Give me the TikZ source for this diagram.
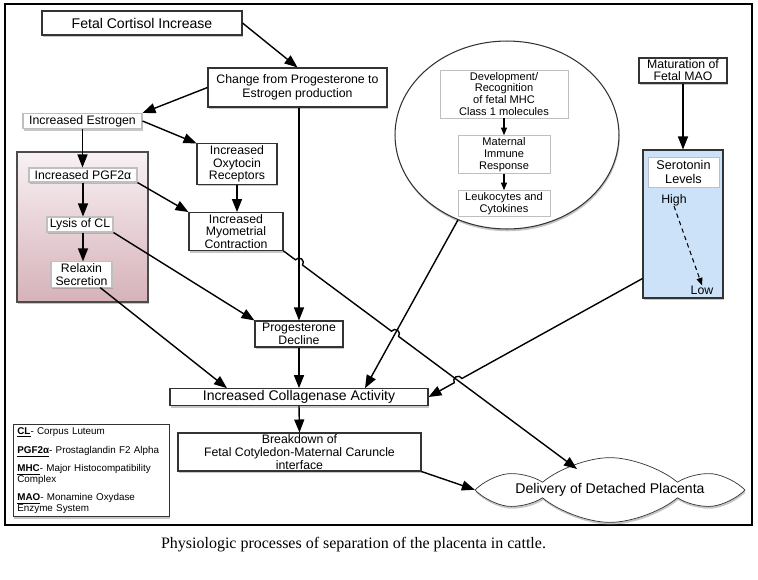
\documentclass[tikz,border=0pt]{standalone}
\usepackage{fontspec}
\setmainfont{Liberation Sans}
\newfontfamily\captionfont{Liberation Serif}
\usetikzlibrary{arrows.meta,calc,positioning,shapes.geometric,shapes.symbols,shadows,intersections}

\definecolor{pinktop}{HTML}{F8F1F3}
\definecolor{pinkbot}{HTML}{D6B2BA}
\definecolor{seroblue}{HTML}{CBE2F9}

\begin{document}
\begin{tikzpicture}[
  x=0.02cm, y=-0.02cm,
  every node/.style={font=\fontsize{7}{7.2}\selectfont},
  dshadow/.style={drop shadow={shadow xshift=0.4pt,shadow yshift=-1.3pt,opacity=0.45}},
  box/.style={draw=black!80,line width=0.6pt,fill=white,align=center,
              inner sep=1pt,dshadow},
  lbox/.style={draw=black!25,line width=0.5pt,fill=white,align=center,
               inner sep=1pt},
  tinytext/.style={font=\fontsize{6.3}{6.8}\selectfont},
  conn/.style={-{Triangle[length=2.6mm,width=2mm]},line width=0.8pt},
  sconn/.style={-{Triangle[length=1.5mm,width=1.2mm]},line width=0.6pt}
]
\useasboundingbox (0,0) rectangle (758,579);
\draw[line width=0.6pt] (5,4) rectangle (752,525);

% left column
\node[box,minimum width=4cm,minimum height=0.48cm,
      font=\fontsize{8}{9}\selectfont] (cortisol) at (142,23)
  {Fetal Cortisol Increase};
\node[box,minimum width=3.58cm,minimum height=0.78cm,
      font=\fontsize{7}{7.9}\selectfont] (change) at (297.5,87.5)
  {Change from Progesterone to\\Estrogen production};
\node[box,draw=black!25,minimum width=2.38cm,minimum height=0.24cm]
  (estrogen) at (82.5,121) {Increased Estrogen};

\node[box,draw=black!70,top color=pinktop,bottom color=pinkbot,
      minimum width=2.62cm,minimum height=3cm] (pink) at (82.5,227) {};
\node[box,draw=black!25,minimum width=2.16cm,minimum height=0.28cm]
  (pgf) at (83,175) {Increased PGF2α};
\node[box,draw=black!25,minimum width=1.32cm,minimum height=0.26cm]
  (lysis) at (80,224.5) {Lysis of CL};
\node[box,draw=black!25,minimum width=1.22cm,minimum height=0.5cm]
  (relaxin) at (81.5,274.5) {Relaxin\\Secretion};

\node[box,minimum width=1.6cm,minimum height=0.76cm] (oxytocin)
  at (237,164) {Increased\\Oxytocin\\Receptors};
\node[box,minimum width=1.88cm,minimum height=0.74cm] (myo)
  at (236,231.5) {Increased\\Myometrial\\Contraction};
\node[box,minimum width=1.76cm,minimum height=0.52cm] (decline)
  at (299,334) {Progesterone\\Decline};
\node[box,minimum width=5.16cm,minimum height=0.32cm,
      font=\fontsize{8}{9}\selectfont] (collagenase) at (299,397)
  {Increased Collagenase Activity};
\node[box,minimum width=4.86cm,minimum height=0.76cm] (breakdown)
  at (299.5,452)
  {Breakdown of\\Fetal Cotyledon-Maternal Caruncle\\interface};

\node[box,align=left,anchor=north west,minimum width=3.12cm,
      minimum height=1.84cm,text width=2.97cm,inner xsep=2.2pt,
      font=\fontsize{5.6}{6.2}\selectfont] (legend) at (13,424)
  {\underline{\textbf{CL}}- Corpus Luteum\\[5pt]
   \underline{\textbf{PGF2α}}- Prostaglandin F2 Alpha\\[4pt]
   \underline{\textbf{MHC}}- Major Histocompatibility\\
   Complex\\[4pt]
   \underline{\textbf{MAO}}- Monamine Oxydase\\
   Enzyme System};

% immune ring
\node[ellipse,draw=black!80,line width=0.6pt,fill=white,dshadow,
      minimum width=4.48cm,minimum height=3.76cm] (ring) at (507,135) {};
\node[lbox,tinytext,minimum width=2.56cm,minimum height=0.96cm]
  (develop) at (504,94)
  {Development/\\Recognition\\of fetal MHC\\Class 1 molecules};
\node[lbox,tinytext,minimum width=1.84cm,minimum height=0.7cm]
  (immune) at (504,154.5) {Maternal\\Immune\\Response};
\node[lbox,tinytext,minimum width=1.84cm,minimum height=0.46cm]
  (leuko) at (504,203.5) {Leukocytes and\\Cytokines};

% serotonin
\node[box,minimum width=1.76cm,minimum height=0.5cm,
      font=\fontsize{7}{6.9}\selectfont] (mao) at (683,70.5)
  {Maturation of\\Fetal MAO};
\node[box,fill=seroblue,minimum width=1.6cm,minimum height=2.96cm]
  (blue) at (683,224) {};
\node[lbox,minimum width=1.42cm,minimum height=0.6cm,
      font=\fontsize{7.2}{8.5}\selectfont] (serotonin) at (683.5,172)
  {Serotonin\\Levels};
\node[anchor=west,inner sep=0pt] (high) at (661,200) {High};
\node[inner sep=0pt] (low) at (702,290) {Low};

\node[cloud,cloud puffs=6,cloud puff arc=80,cloud ignores aspect,
      draw=black!80,fill=white,dshadow,inner sep=0pt,
      minimum width=4.74cm,minimum height=0.66cm,
      font=\fontsize{8}{9}\selectfont] (cloud) at (610,490)
  {Delivery of Detached Placenta};

\node[font=\captionfont\fontsize{9.1}{11}\selectfont] (caption)
  at (353.5,545)
  {Physiologic processes of separation of the placenta in cattle.};

% connectors
\draw[conn] (cortisol.east) -- (change.north);
\draw[conn] (change.west) -- (estrogen.north east);
\draw[conn,name path=vline] (change.south -| decline.north) -- (decline.north);
\draw[conn] (estrogen.south) -- (estrogen.south |- pgf.north);
\draw[conn] (estrogen.east) -- (oxytocin.north west);
\draw[conn] (pgf.south east) -- (myo.north west);
\draw[conn] (oxytocin.south) -- (oxytocin.south |- myo.north);
\draw[conn] (pgf.south) -- (pgf.south |- lysis.north);
\draw[conn] (pgf.south |- lysis.south) -- (pgf.south |- relaxin.north);
\draw[conn] (lysis.south east) -- (decline.north west);
\draw[conn] (relaxin.-35) -- ($(collagenase.north)+(-72,0)$);
\draw[conn] (decline.south) -- (collagenase.north);
\draw[conn] (collagenase.south) -- (breakdown.north);
\draw[conn] (breakdown.south east) -- (cloud.west);
\draw[conn,name path=ringline] (ring.240) -- ($(collagenase.north)+(66,0)$);
\draw[conn] (mao.south) -- (blue.north);
\draw[sconn] (develop.south) -- (immune.north);
\draw[sconn] (immune.south) -- (leuko.north);
\draw[sconn,dash pattern=on 2.5pt off 2pt] (high.south) -- (low.north);

% crossing lines with hops
\coordinate (cloudtop) at ($(cloud.center)+(-33,-21)$);
\coordinate (seroout) at ($(blue.south west)+(0,-20)$);
\path[name path=myoline] (myo.south east) -- (cloudtop);
\path[name path=seroline] (seroout) -- (collagenase.east);
\path[name intersections={of=myoline and vline,by=hopA}];
\path[name intersections={of=myoline and ringline,by=hopB}];
\path[name intersections={of=seroline and myoline,by=hopC}];

\draw[conn] let \p1=($(cloudtop)-(myo.south east)$),
               \n1={atan2(\y1,\x1)} in
  (myo.south east) -- ($(hopA)!2.5pt!(myo.south east)$)
  arc[start angle=\n1+180,delta angle=-180,radius=2.5pt]
  -- ($(hopB)!2.5pt!(myo.south east)$)
  arc[start angle=\n1+180,delta angle=-180,radius=2.5pt]
  -- (cloudtop);
\draw[conn] let \p1=($(collagenase.east)-(seroout)$),
               \n1={atan2(\y1,\x1)} in
  (seroout) -- ($(hopC)!2.5pt!(seroout)$)
  arc[start angle=\n1+180,delta angle=180,radius=2.5pt]
  -- (collagenase.east);
\end{tikzpicture}
\end{document}
